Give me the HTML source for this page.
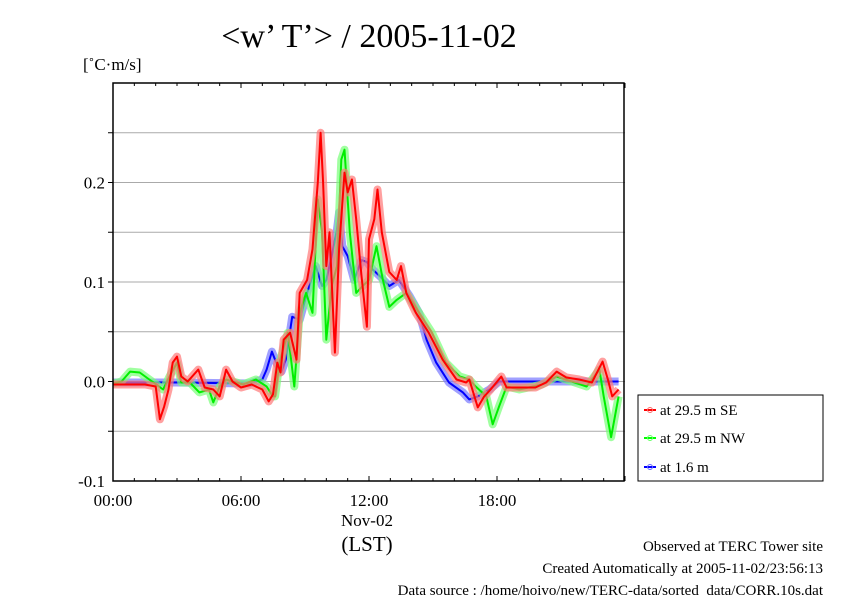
<!DOCTYPE html>
<html><head><meta charset="utf-8"><style>
body{margin:0;background:#fff;}
svg text{font-family:"Liberation Serif",serif;fill:#000;}
</style></head><body>
<svg id="chart" width="842" height="595" xmlns="http://www.w3.org/2000/svg">
<text x="369" y="47" font-size="34" text-anchor="middle">&lt;w’ T’&gt; / 2005-11-02</text>
<text x="83" y="70" font-size="17">[˚C·m/s]</text>
<g id="grid"></g>
<g id="series"></g>
<rect x="113" y="83" width="511" height="398" fill="none" stroke="#000" stroke-width="1.5"/>
<g id="axes"></g>
<text x="367" y="526" font-size="17" text-anchor="middle">Nov-02</text>
<text x="367" y="551" font-size="21" text-anchor="middle">(LST)</text>
<g>
<rect x="638" y="395" width="185" height="86" fill="#fff" stroke="#000" stroke-width="1"/>
<g><line x1="644" y1="410" x2="656" y2="410" stroke="#f00" stroke-width="2"/><circle cx="650" cy="410" r="2.5" fill="none" stroke="#f66"/><text x="660" y="415" font-size="15">at 29.5 m SE</text></g>
<g><line x1="644" y1="438" x2="656" y2="438" stroke="#0f0" stroke-width="2"/><circle cx="650" cy="438" r="2.5" fill="none" stroke="#6f6"/><text x="660" y="443" font-size="15">at 29.5 m NW</text></g>
<g><line x1="644" y1="467" x2="656" y2="467" stroke="#00f" stroke-width="2"/><circle cx="650" cy="467" r="2.5" fill="none" stroke="#66f"/><text x="660" y="472" font-size="15">at 1.6 m</text></g>
</g>
<text x="823" y="551" font-size="15" text-anchor="end">Observed at TERC Tower site</text>
<text x="823" y="573" font-size="15" text-anchor="end">Created Automatically at 2005-11-02/23:56:13</text>
<text x="823" y="595" font-size="15" text-anchor="end">Data source : /home/hoivo/new/TERC-data/sorted_data/CORR.10s.dat</text>
</svg>
<script>
const yTicks=[-0.1,0.0,0.1,0.2];
const yTickLabels=["-0.1","0.0","0.1","0.2"];
const xTicks=[0,6,12,18];
const xTickLabels=["00:00","06:00","12:00","18:00"];
const seTimes=[0,0.5,1.5,2.0,2.2,2.4,2.6,2.8,3.0,3.2,3.5,4.0,4.3,4.7,5.0,5.3,5.6,6.0,6.5,7.0,7.3,7.5,7.7,7.85,8.0,8.3,8.6,8.75,9.1,9.35,9.6,9.73,9.85,10.0,10.15,10.4,10.6,10.85,11.0,11.2,11.4,11.65,11.9,12.0,12.25,12.4,12.6,12.95,13.3,13.5,13.75,14.2,14.8,15.45,16.1,16.55,16.7,17.1,17.4,17.7,18.2,18.45,19.05,19.8,20.3,20.8,21.25,21.85,22.45,22.95,23.2,23.4,23.7];
const seValues=[-0.003,-0.003,-0.003,-0.005,-0.038,-0.025,-0.008,0.019,0.025,0.005,0.0,0.012,-0.006,-0.008,-0.015,0.012,0.0,-0.006,-0.003,-0.008,-0.02,-0.013,0.019,0.009,0.042,0.049,0.022,0.089,0.102,0.133,0.2,0.25,0.2,0.116,0.15,0.029,0.133,0.21,0.19,0.203,0.163,0.106,0.055,0.143,0.163,0.193,0.15,0.11,0.102,0.116,0.089,0.069,0.049,0.022,0.002,-0.001,0.002,-0.026,-0.015,-0.008,0.005,-0.006,-0.006,-0.006,-0.001,0.01,0.004,0.002,-0.001,0.02,0.002,-0.015,-0.008];
const nwTimes=[0,0.4,0.8,1.25,1.7,2.35,2.65,3.0,3.2,3.6,4.05,4.5,4.7,5.0,5.3,6.1,6.7,7.2,7.5,7.6,7.8,8.2,8.5,8.75,9.05,9.35,9.6,9.8,10.0,10.25,10.5,10.7,10.85,11.1,11.4,11.7,12.0,12.35,12.65,12.95,13.3,13.75,14.35,14.95,15.6,16.25,16.7,17.0,17.5,17.8,18.1,18.45,19.05,20.1,20.8,21.5,22.2,22.8,23.0,23.35,23.7];
const nwValues=[-0.002,0.0,0.01,0.009,0.002,-0.008,0.005,0.019,-0.001,-0.001,-0.011,-0.008,-0.021,-0.005,0.002,-0.003,0.002,-0.005,-0.015,-0.015,0.019,0.049,-0.005,0.069,0.089,0.069,0.183,0.15,0.042,0.096,0.116,0.223,0.233,0.15,0.089,0.096,0.102,0.136,0.102,0.075,0.082,0.089,0.069,0.049,0.019,0.005,0.002,-0.005,-0.015,-0.043,-0.025,-0.005,-0.008,-0.003,0.005,0.0,-0.005,0.012,-0.015,-0.056,-0.015];
const lowTimes=[0,3,6.4,7.0,7.2,7.45,7.65,7.9,8.1,8.4,8.75,9.1,9.5,9.8,10.0,10.25,10.5,10.6,10.75,11.0,11.3,11.65,11.9,12.15,12.5,12.95,13.4,13.9,14.35,14.7,15.15,15.75,16.4,16.7,17.1,17.65,18.1,21,23.7];
const lowValues=[-0.001,-0.001,-0.002,0.002,0.012,0.03,0.019,0.01,0.022,0.065,0.062,0.089,0.116,0.096,0.102,0.126,0.153,0.17,0.136,0.126,0.102,0.122,0.12,0.113,0.106,0.096,0.102,0.086,0.069,0.042,0.019,-0.001,-0.011,-0.018,-0.015,-0.008,0.0,0.0,0.0];

const X0=113,X1=625,Y0=481,Y1=83,YMIN=-0.1,YMAX=0.3;
const xs=h=>X0+h/24*(X1-X0);
const ys=v=>Y0-(v-YMIN)/(YMAX-YMIN)*(Y0-Y1);
const NS="http://www.w3.org/2000/svg";
function mk(tag,attrs,parent){const e=document.createElementNS(NS,tag);for(const k in attrs)e.setAttribute(k,attrs[k]);parent.appendChild(e);return e;}
const grid=document.getElementById('grid'),axes=document.getElementById('axes'),ser=document.getElementById('series');
for(let v=-0.05;v<0.29;v+=0.05){
  const g=mk('line',{x1:X0,x2:X1,y1:ys(v),y2:ys(v),stroke:'#aaa','stroke-width':1},grid);
  
  
  const t=mk('line',{x1:X0-5,x2:X0,y1:ys(v),y2:ys(v),stroke:'#000'},axes);
  
  
}
yTicks.forEach((v,i)=>{
  const t=mk('text',{x:X0-8,y:ys(v)+6,'font-size':17,'text-anchor':'end'},axes);
  t.textContent=yTickLabels[i];
  
  
});
for(let h=0;h<=24;h++){
  const L=h%6==0?5:3;
  const a=mk('line',{x1:xs(h),x2:xs(h),y1:Y0,y2:Y0-L,stroke:'#000'},axes);
  
  
  const b=mk('line',{x1:xs(h),x2:xs(h),y1:Y1,y2:Y1+L,stroke:'#000'},axes);
  
  
}
xTicks.forEach((h,i)=>{
  const t=mk('text',{x:xs(h),y:506,'font-size':17,'text-anchor':'middle'},axes);
  t.textContent=xTickLabels[i];
  
  
});
function draw(times,vals,col,light,name){
  const d=times.map((h,i)=>(i?'L':'M')+xs(h).toFixed(1)+','+ys(vals[i]).toFixed(1)).join(' ');
  const band=mk('path',{d:d,fill:'none',stroke:light,'stroke-width':8,'stroke-linejoin':'round','stroke-opacity':0.7},ser);
  
  
  const ln=mk('path',{d:d,fill:'none',stroke:col,'stroke-width':2,'stroke-linejoin':'round'},ser);
  
  
}
draw(lowTimes,lowValues,'#00f','#77f','series-1-6m');
draw(nwTimes,nwValues,'#0e0','#7f7','series-29-5m-nw');
draw(seTimes,seValues,'#f00','#f77','series-29-5m-se');
</script>
</body></html>
